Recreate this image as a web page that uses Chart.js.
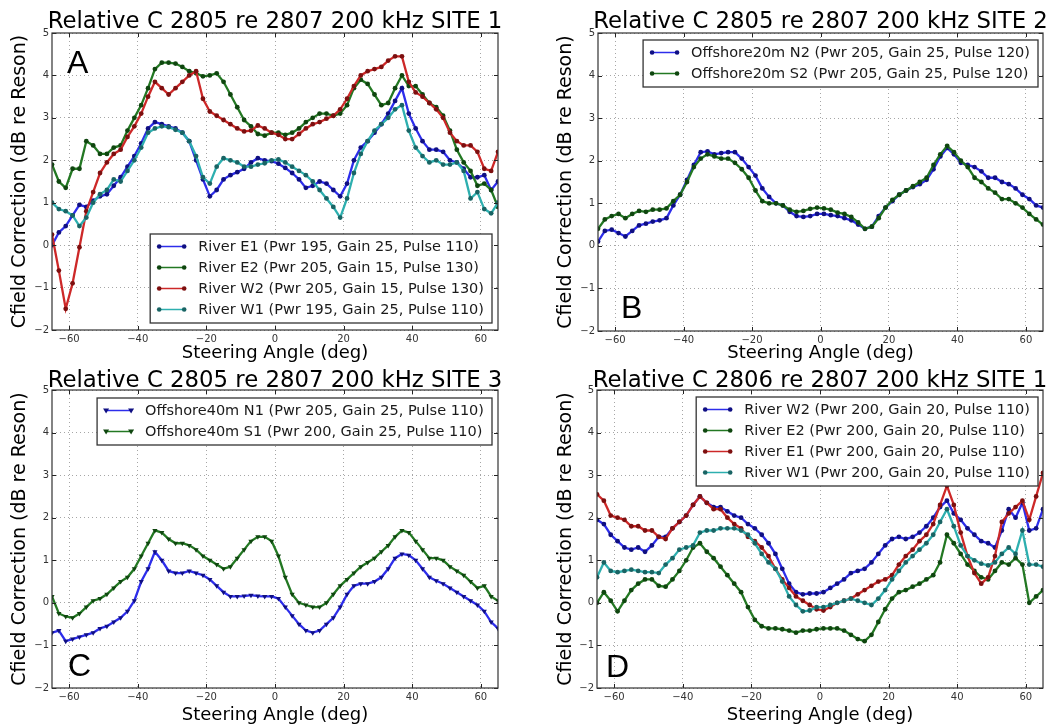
<!DOCTYPE html>
<html>
<head>
<meta charset="utf-8">
<script src="https://cdn.jsdelivr.net/npm/chart.js@4.4.1/dist/chart.umd.min.js"></script>
<style>
  body { margin: 0; background: #fff; width: 1062px; height: 728px; overflow: hidden; position: relative; }
  .panel { position: absolute; width: 531px; height: 364px; }
</style>
</head>
<body>
<div class="panel" style="left:0;top:0"><canvas id="chartA" width="531" height="364"></canvas></div>
<div class="panel" style="left:531px;top:0"><canvas id="chartB" width="531" height="364"></canvas></div>
<div class="panel" style="left:0;top:364px"><canvas id="chartC" width="531" height="364"></canvas></div>
<div class="panel" style="left:531px;top:364px"><canvas id="chartD" width="531" height="364"></canvas></div>
<script>
// steering angles (deg), shared by every series
const angles = [-65, -63, -61, -59, -57, -55, -53, -51, -49, -47, -45, -43, -41, -39, -37, -35, -33, -31, -29, -27, -25, -23,
  -21, -19, -17, -15, -13, -11, -9, -7, -5, -3, -1, 1, 3, 5, 7, 9, 11, 13, 15, 17, 19, 21, 23, 25, 27, 29, 31, 33, 35, 37,
  39, 41, 43, 45, 47, 49, 51, 53, 55, 57, 59, 61, 63, 65];
const xTicks = [-60, -40, -20, 0, 20, 40, 60];
const yTicks = [-2, -1, 0, 1, 2, 3, 4, 5];

// Panel A: 2805 re 2807, site 1
const aRiverE1 = [0.0, 0.3, 0.45, 0.7, 0.95, 0.9, 1.05, 1.15, 1.2, 1.4, 1.6, 1.85, 2.1, 2.4, 2.75, 2.9, 2.85, 2.8, 2.75, 2.65, 2.45, 2.0,
  1.55, 1.15, 1.3, 1.55, 1.65, 1.72, 1.8, 1.95, 2.05, 2.0, 1.98, 1.92, 1.82, 1.7, 1.55, 1.35, 1.4, 1.5, 1.45, 1.3, 1.15, 1.45, 2.0, 2.3, 2.45, 2.65, 2.85, 3.1, 3.4, 3.7,
  3.1, 2.75, 2.45, 2.25, 2.25, 2.2, 2.0, 1.95, 1.8, 1.6, 1.6, 1.65, 1.3, 1.5];
const aRiverE2 = [1.9, 1.5, 1.35, 1.8, 1.8, 2.45, 2.35, 2.15, 2.15, 2.3, 2.35, 2.7, 3.0, 3.3, 3.7, 4.15, 4.3, 4.3, 4.28, 4.2, 4.1, 4.05,
  3.98, 4.0, 4.05, 3.85, 3.55, 3.25, 2.95, 2.8, 2.62, 2.58, 2.65, 2.65, 2.6, 2.65, 2.75, 2.9, 3.0, 3.1, 3.1, 3.05, 3.1, 3.3, 3.7, 3.9, 3.8, 3.55, 3.3, 3.35, 3.7, 4.0,
  3.75, 3.75, 3.55, 3.35, 3.25, 3.05, 2.7, 2.25, 1.95, 1.75, 1.4, 1.45, 1.3, 0.9];
const aRiverW2 = [0.25, -0.6, -1.5, -0.9, -0.05, 0.8, 1.25, 1.7, 1.95, 2.15, 2.25, 2.55, 2.8, 3.1, 3.5, 3.85, 3.7, 3.55, 3.7, 3.85, 4.0, 4.1,
  3.45, 3.15, 3.05, 2.95, 2.85, 2.75, 2.68, 2.7, 2.82, 2.75, 2.65, 2.6, 2.5, 2.5, 2.62, 2.75, 2.85, 2.9, 2.98, 3.05, 3.2, 3.45, 3.75, 4.0, 4.1, 4.15, 4.2, 4.35, 4.45, 4.45,
  3.85, 3.6, 3.5, 3.35, 3.2, 3.0, 2.65, 2.45, 2.35, 2.35, 2.2, 1.8, 1.75, 2.2];
const aRiverW1 = [1.0, 0.85, 0.8, 0.7, 0.45, 0.65, 1.0, 1.2, 1.3, 1.55, 1.5, 1.75, 2.0, 2.3, 2.65, 2.75, 2.8, 2.78, 2.72, 2.65, 2.45, 2.1,
  1.6, 1.45, 1.85, 2.05, 2.0, 1.95, 1.85, 1.85, 1.9, 1.93, 2.0, 2.02, 1.95, 1.85, 1.75, 1.65, 1.5, 1.3, 1.1, 0.9, 0.65, 1.1, 1.7, 2.15, 2.45, 2.7, 2.85, 3.0, 3.2, 3.3,
  2.7, 2.3, 2.1, 1.95, 2.0, 1.9, 1.9, 1.95, 1.75, 1.1, 1.25, 0.85, 0.75, 1.0];

// Panel B: 2805 re 2807, site 2
const bOffshoreN2 = [0.1, 0.35, 0.38, 0.3, 0.22, 0.35, 0.48, 0.52, 0.57, 0.6, 0.65, 0.95, 1.2, 1.55, 1.9, 2.2, 2.22, 2.15, 2.18, 2.2, 2.2, 2.05,
  1.85, 1.65, 1.35, 1.15, 1.0, 0.95, 0.8, 0.7, 0.68, 0.7, 0.75, 0.75, 0.72, 0.7, 0.65, 0.6, 0.5, 0.4, 0.45, 0.7, 0.9, 1.05, 1.2, 1.3, 1.38, 1.45, 1.55, 1.8, 2.1, 2.3,
  2.15, 1.95, 1.9, 1.85, 1.75, 1.6, 1.6, 1.5, 1.45, 1.35, 1.2, 1.1, 0.95, 0.9];
const bOffshoreS2 = [0.4, 0.62, 0.7, 0.75, 0.65, 0.75, 0.82, 0.8, 0.85, 0.85, 0.88, 1.05, 1.2, 1.5, 1.85, 2.05, 2.15, 2.1, 2.05, 2.05, 1.95, 1.8,
  1.6, 1.3, 1.05, 1.0, 1.0, 0.95, 0.85, 0.8, 0.82, 0.87, 0.9, 0.88, 0.85, 0.78, 0.75, 0.68, 0.55, 0.4, 0.45, 0.65, 0.9, 1.08, 1.2, 1.3, 1.4, 1.5, 1.6, 1.9, 2.15, 2.35,
  2.2, 2.0, 1.85, 1.6, 1.5, 1.35, 1.25, 1.1, 1.1, 1.0, 0.9, 0.75, 0.62, 0.5];

// Panel C: 2805 re 2807, site 3
const cOffshoreN1 = [-0.7, -0.65, -0.9, -0.85, -0.8, -0.75, -0.7, -0.6, -0.55, -0.45, -0.35, -0.2, 0.05, 0.5, 0.8, 1.2, 1.0, 0.75, 0.7, 0.7, 0.75, 0.7,
  0.65, 0.55, 0.4, 0.25, 0.15, 0.15, 0.16, 0.18, 0.16, 0.15, 0.15, 0.1, -0.1, -0.3, -0.5, -0.65, -0.7, -0.65, -0.5, -0.35, -0.1, 0.2, 0.4, 0.45, 0.45, 0.5, 0.6, 0.8, 1.05, 1.15,
  1.12, 1.0, 0.8, 0.6, 0.52, 0.45, 0.35, 0.25, 0.15, 0.05, -0.05, -0.2, -0.45, -0.6];
const cOffshoreS1 = [0.15, -0.25, -0.32, -0.35, -0.25, -0.1, 0.05, 0.1, 0.2, 0.35, 0.5, 0.6, 0.8, 1.1, 1.4, 1.7, 1.65, 1.5, 1.4, 1.4, 1.35, 1.25,
  1.1, 1.0, 0.9, 0.8, 0.85, 1.05, 1.25, 1.45, 1.55, 1.55, 1.45, 1.1, 0.6, 0.2, 0.0, -0.05, -0.1, -0.1, 0.0, 0.2, 0.4, 0.55, 0.7, 0.85, 0.95, 1.05, 1.2, 1.35, 1.55, 1.7,
  1.65, 1.45, 1.25, 1.05, 1.05, 1.0, 0.85, 0.75, 0.65, 0.5, 0.35, 0.4, 0.15, 0.05];

// Panel D: 2806 re 2807, site 1
const dRiverW2 = [1.95, 1.85, 1.6, 1.45, 1.3, 1.25, 1.3, 1.2, 1.35, 1.55, 1.55, 1.75, 1.9, 2.05, 2.3, 2.5, 2.35, 2.25, 2.25, 2.15, 2.05, 2.0,
  1.85, 1.75, 1.6, 1.4, 1.15, 0.8, 0.45, 0.25, 0.2, 0.22, 0.22, 0.25, 0.35, 0.45, 0.55, 0.7, 0.75, 0.8, 0.95, 1.15, 1.35, 1.5, 1.55, 1.5, 1.55, 1.65, 1.8, 2.0, 2.25, 2.4,
  2.1, 1.95, 1.75, 1.6, 1.45, 1.4, 1.3, 1.7, 2.2, 2.0, 2.35, 1.7, 1.75, 2.2];
const dRiverE2 = [0.0, 0.25, 0.05, -0.2, 0.05, 0.3, 0.45, 0.55, 0.55, 0.4, 0.38, 0.55, 0.75, 1.0, 1.3, 1.4, 1.2, 1.05, 0.85, 0.65, 0.45, 0.25,
  -0.1, -0.4, -0.55, -0.6, -0.6, -0.62, -0.65, -0.7, -0.65, -0.65, -0.62, -0.6, -0.6, -0.6, -0.65, -0.75, -0.85, -0.9, -0.75, -0.45, -0.15, 0.1, 0.25, 0.3, 0.38, 0.45, 0.55, 0.65, 0.95, 1.6,
  1.4, 1.15, 0.9, 0.75, 0.6, 0.55, 0.75, 0.95, 0.9, 1.05, 0.9, 0.0, 0.15, 0.3];
const dRiverE1 = [2.55, 2.4, 2.05, 2.0, 1.95, 1.8, 1.8, 1.7, 1.7, 1.55, 1.5, 1.75, 1.9, 2.05, 2.3, 2.5, 2.35, 2.2, 2.2, 2.0, 1.85, 1.75,
  1.55, 1.45, 1.3, 1.1, 0.8, 0.55, 0.35, 0.15, 0.05, -0.05, -0.15, -0.18, -0.1, 0.0, 0.05, 0.1, 0.2, 0.3, 0.4, 0.5, 0.55, 0.65, 0.9, 1.1, 1.25, 1.45, 1.6, 1.85, 2.3, 2.75,
  2.3, 1.65, 1.1, 0.7, 0.45, 0.6, 1.1, 1.9, 2.1, 2.25, 2.4, 1.95, 2.5, 3.05];
const dRiverW1 = [0.6, 0.95, 0.75, 0.72, 0.75, 0.78, 0.75, 0.72, 0.72, 0.7, 0.9, 1.05, 1.25, 1.3, 1.35, 1.65, 1.7, 1.7, 1.75, 1.75, 1.75, 1.7,
  1.6, 1.4, 1.15, 0.95, 0.8, 0.5, 0.15, -0.05, -0.2, -0.18, -0.1, -0.1, -0.05, 0.0, 0.05, 0.1, 0.05, 0.0, -0.05, 0.1, 0.3, 0.55, 0.75, 0.95, 1.1, 1.25, 1.4, 1.6, 1.9, 2.2,
  1.8, 1.35, 1.1, 1.0, 0.92, 0.88, 0.95, 1.15, 1.3, 1.15, 1.7, 0.9, 0.9, 0.85];

const FONT = '"DejaVu Sans", "Noto Sans", sans-serif';
const BLUE = { line: 'rgb(45,45,235)', mark: 'rgb(15,15,130)' };
const GREEN = { line: 'rgb(35,120,35)', mark: 'rgb(15,70,15)' };
const RED = { line: 'rgb(205,40,40)', mark: 'rgb(125,15,15)' };
const CYAN = { line: 'rgb(45,175,175)', mark: 'rgb(25,100,100)' };

// frame, inward ticks, title, panel letter and in-axes legend
const decorPlugin = {
    id: 'decor',
    afterDatasetsDraw(chart) {
        const ctx = chart.ctx;
        const a = chart.chartArea;
        const xs = chart.scales.x, ys = chart.scales.y;
        ctx.save();
        ctx.strokeStyle = '#222';
        ctx.lineWidth = 1;
        ctx.beginPath();
        xTicks.forEach(v => {
            let px = Math.round(xs.getPixelForValue(v)) + 0.5;
            ctx.moveTo(px, a.bottom); ctx.lineTo(px, a.bottom - 4);
            ctx.moveTo(px, a.top); ctx.lineTo(px, a.top + 4);
        });
        yTicks.forEach(v => {
            let py = Math.round(ys.getPixelForValue(v)) + 0.5;
            ctx.moveTo(a.left, py); ctx.lineTo(a.left + 4, py);
            ctx.moveTo(a.right, py); ctx.lineTo(a.right - 4, py);
        });
        ctx.stroke();
        ctx.strokeStyle = '#333';
        ctx.lineWidth = 1.2;
        ctx.strokeRect(a.left, a.top, a.right - a.left, a.bottom - a.top);
        ctx.restore();
    },
    afterDraw(chart, args, opts) {
        const ctx = chart.ctx;
        const a = chart.chartArea;
        ctx.save();
        // title centred over the axes
        ctx.fillStyle = '#000';
        ctx.font = '22.8px ' + FONT;
        ctx.textAlign = 'center';
        ctx.textBaseline = 'alphabetic';
        ctx.fillText(opts.title, (a.left + a.right) / 2, opts.titleY);
        // big panel letter
        ctx.font = '32px "Liberation Sans", sans-serif';
        ctx.textAlign = 'left';
        let ly = opts.letterFromTop ? a.top + opts.letterDy : a.bottom - opts.letterDy;
        ctx.fillText(opts.letter, a.left + opts.letterDx, ly);
        // legend
        PanelDrawer.drawLegend(ctx, chart, opts.legend);
        ctx.restore();
    }
};

class PanelDrawer {
    static tickText(v) {
        return String(v).replace('-', '\u2212');
    }
    static buildDataset(label, values, color, idx, count, triangle) {
        return {
            label: label,
            data: values.map((v, i) => ({ x: angles[i], y: v })),
            borderColor: color.line,
            backgroundColor: color.mark,
            pointBackgroundColor: color.mark,
            pointBorderColor: color.mark,
            pointBorderWidth: 0,
            pointRadius: triangle ? 3 : 2.4,
            pointStyle: triangle ? 'triangle' : 'circle',
            pointRotation: triangle ? 180 : 0,
            borderWidth: 2.3,
            tension: 0,
            fill: false,
            order: count - idx,
            markColor: color.mark,
            triangle: triangle
        };
    }
    static drawMarker(ctx, x, y, color, triangle) {
        ctx.fillStyle = color;
        ctx.beginPath();
        if (triangle) {
            ctx.moveTo(x - 3, y - 2);
            ctx.lineTo(x + 3, y - 2);
            ctx.lineTo(x, y + 3);
            ctx.closePath();
        } else {
            ctx.arc(x, y, 2.3, 0, Math.PI * 2);
        }
        ctx.fill();
    }
    static drawLegend(ctx, chart, lg) {
        const a = chart.chartArea;
        const sets = chart.data.datasets;
        ctx.font = '14.5px ' + FONT;
        let textW = 0;
        sets.forEach(ds => { textW = Math.max(textW, ctx.measureText(ds.label).width); });
        let w = 48 + textW + 8;
        let h = 26 + 21 * (sets.length - 1);
        let right = a.right - lg.dx;
        let left = right - w;
        let top = lg.anchor === 'bottom' ? a.bottom - lg.dy - h : a.top + lg.dy;
        ctx.fillStyle = '#fff';
        ctx.fillRect(left, top, w, h);
        ctx.strokeStyle = '#333';
        ctx.lineWidth = 1.3;
        ctx.strokeRect(left, top, w, h);
        ctx.textAlign = 'left';
        ctx.textBaseline = 'middle';
        sets.forEach((ds, i) => {
            let cy = top + 12.5 + 21 * i;
            let x0 = left + 9, x1 = left + 34;
            ctx.strokeStyle = ds.borderColor;
            ctx.lineWidth = 1.5;
            ctx.beginPath();
            ctx.moveTo(x0, cy);
            ctx.lineTo(x1, cy);
            ctx.stroke();
            this.drawMarker(ctx, x0, cy, ds.markColor, ds.triangle);
            this.drawMarker(ctx, x1, cy, ds.markColor, ds.triangle);
            ctx.fillStyle = '#1a1a1a';
            ctx.fillText(ds.label, left + 48, cy + 1);
        });
    }
    static drawPanel(canvasId, datasets, p) {
        return new Chart(document.getElementById(canvasId), {
            type: 'line',
            data: { datasets: datasets },
            options: {
                responsive: false,
                animation: false,
                events: [],
                layout: { padding: { top: p.top, right: p.right, left: 0, bottom: 0 } },
                plugins: {
                    legend: { display: false },
                    tooltip: { enabled: false },
                    decor: p.decor
                },
                scales: {
                    x: {
                        type: 'linear',
                        min: -65,
                        max: 65,
                        afterBuildTicks: s => { s.ticks = xTicks.map(v => ({ value: v })); },
                        afterFit: s => { s.height = p.xHeight; },
                        ticks: {
                            autoSkip: false, maxRotation: 0, padding: 3,
                            color: '#333', font: { family: FONT, size: 10 },
                            callback: v => this.tickText(v)
                        },
                        grid: { color: 'rgba(0,0,0,0.35)', lineWidth: 1, drawTicks: false },
                        border: { display: false, dash: [1, 3] },
                        title: {
                            display: true, text: 'Steering Angle (deg)', color: '#000',
                            font: { family: FONT, size: 18 }, padding: { top: 0, bottom: p.xTitlePad }
                        }
                    },
                    y: {
                        min: -2,
                        max: 5,
                        afterBuildTicks: s => { s.ticks = yTicks.map(v => ({ value: v })); },
                        afterFit: s => { s.width = p.yWidth; },
                        ticks: {
                            autoSkip: false, padding: 3,
                            color: '#333', font: { family: FONT, size: 10 },
                            callback: v => this.tickText(v)
                        },
                        grid: { color: 'rgba(0,0,0,0.35)', lineWidth: 1, drawTicks: false },
                        border: { display: false, dash: [1, 3] },
                        title: {
                            display: true, text: 'Cfield Correction (dB re Reson)', color: '#000',
                            font: { family: FONT, size: 19 }, padding: { top: p.yTitlePad, bottom: 0 }
                        }
                    }
                }
            },
            plugins: [decorPlugin]
        });
    }
}

PanelDrawer.drawPanel('chartA', [
    PanelDrawer.buildDataset('River E1 (Pwr 195, Gain 25, Pulse 110)', aRiverE1, BLUE, 0, 4, false),
    PanelDrawer.buildDataset('River E2 (Pwr 205, Gain 15, Pulse 130)', aRiverE2, GREEN, 1, 4, false),
    PanelDrawer.buildDataset('River W2 (Pwr 205, Gain 15, Pulse 130)', aRiverW2, RED, 2, 4, false),
    PanelDrawer.buildDataset('River W1 (Pwr 195, Gain 25, Pulse 110)', aRiverW1, CYAN, 3, 4, false)
], {
    top: 33, right: 33, xHeight: 34, yWidth: 52, xTitlePad: 0, yTitlePad: 8.6,
    decor: {
        title: 'Relative C 2805 re 2807 200 kHz SITE 1', titleY: 28,
        letter: 'A', letterDx: 15, letterDy: 40, letterFromTop: true,
        legend: { anchor: 'bottom', dx: 6, dy: 7 }
    }
});

PanelDrawer.drawPanel('chartB', [
    PanelDrawer.buildDataset('Offshore20m N2 (Pwr 205, Gain 25, Pulse 120)', bOffshoreN2, BLUE, 0, 2, false),
    PanelDrawer.buildDataset('Offshore20m S2 (Pwr 205, Gain 25, Pulse 120)', bOffshoreS2, GREEN, 1, 2, false)
], {
    top: 33, right: 19, xHeight: 33, yWidth: 67, xTitlePad: 0, yTitlePad: 23.6,
    decor: {
        title: 'Relative C 2805 re 2807 200 kHz SITE 2', titleY: 28,
        letter: 'B', letterDx: 23, letterDy: 13, letterFromTop: false,
        legend: { anchor: 'top', dx: 5, dy: 7 }
    }
});

PanelDrawer.drawPanel('chartC', [
    PanelDrawer.buildDataset('Offshore40m N1 (Pwr 205, Gain 25, Pulse 110)', cOffshoreN1, BLUE, 0, 2, true),
    PanelDrawer.buildDataset('Offshore40m S1 (Pwr 200, Gain 25, Pulse 110)', cOffshoreS1, GREEN, 1, 2, true)
], {
    top: 26, right: 33, xHeight: 40, yWidth: 52, xTitlePad: 2, yTitlePad: 8.6,
    decor: {
        title: 'Relative C 2805 re 2807 200 kHz SITE 3', titleY: 23,
        letter: 'C', letterDx: 16, letterDy: 12, letterFromTop: false,
        legend: { anchor: 'top', dx: 6, dy: 8 }
    }
});

PanelDrawer.drawPanel('chartD', [
    PanelDrawer.buildDataset('River W2 (Pwr 200, Gain 20, Pulse 110)', dRiverW2, BLUE, 0, 4, false),
    PanelDrawer.buildDataset('River E2 (Pwr 200, Gain 20, Pulse 110)', dRiverE2, GREEN, 1, 4, false),
    PanelDrawer.buildDataset('River E1 (Pwr 200, Gain 20, Pulse 110)', dRiverE1, RED, 2, 4, false),
    PanelDrawer.buildDataset('River W1 (Pwr 200, Gain 20, Pulse 110)', dRiverW1, CYAN, 3, 4, false)
], {
    top: 26, right: 19, xHeight: 40, yWidth: 66, xTitlePad: 2, yTitlePad: 23.6,
    decor: {
        title: 'Relative C 2806 re 2807 200 kHz SITE 1', titleY: 22.5,
        letter: 'D', letterDx: 9, letterDy: 11, letterFromTop: false,
        legend: { anchor: 'top', dx: 5, dy: 7 }
    }
});
</script>
</body>
</html>
